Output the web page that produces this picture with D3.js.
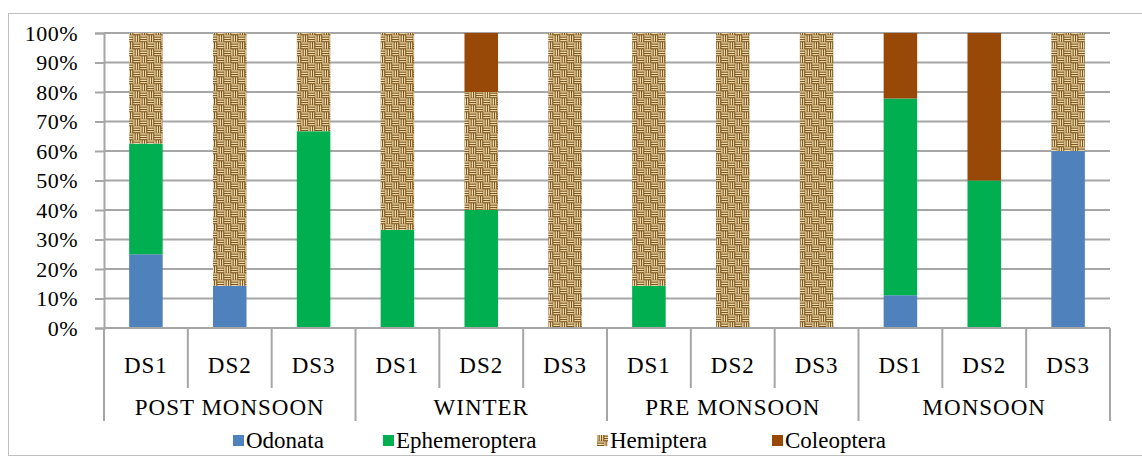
<!DOCTYPE html>
<html>
<head>
<meta charset="utf-8">
<script src="https://cdn.jsdelivr.net/npm/d3@7/dist/d3.min.js"></script>
<style>
  html, body { margin: 0; padding: 0; background: #ffffff; }
  svg { display: block; }
  svg text { font-family: "Liberation Serif", serif !important; }
</style>
</head>
<body>
<svg id="chart" width="1142" height="463" font-family="Liberation Serif, serif"></svg>
<script>
// Season groups and sampling sites (one bar per site within each season)
const seasons = ["POST MONSOON", "WINTER", "PRE MONSOON", "MONSOON"];
const sites = ["DS1", "DS2", "DS3"];

// Percentage composition of each order, in bar order (season x site)
const odonata       = [25,   14.3, 0,    0,    0,  0,   0,    0,   0,   11.1, 0,  60];
const ephemeroptera = [37.5, 0,    66.7, 33.3, 40, 0,   14.3, 0,   0,   66.7, 50, 0];
const hemiptera     = [37.5, 85.7, 33.3, 66.7, 40, 100, 85.7, 100, 100, 0,    0,  40];
const coleoptera    = [0,    0,    0,    0,    20, 0,   0,    0,   0,   22.2, 50, 0];

const seriesNames = ["Odonata", "Ephemeroptera", "Hemiptera", "Coleoptera"];
const yTicks = [0, 10, 20, 30, 40, 50, 60, 70, 80, 90, 100];

// Table built from the arrays above
const rows = [];
seasons.forEach((season, si) => {
  sites.forEach((site, di) => {
    const i = si * sites.length + di;
    rows.push({
      key: season + "|" + site, season, site,
      Odonata: odonata[i], Ephemeroptera: ephemeroptera[i],
      Hemiptera: hemiptera[i], Coleoptera: coleoptera[i]
    });
  });
});

const FONT = "Liberation Serif, serif";
const svg = d3.select("#chart");
const plotLeft = 104, plotRight = 1110, plotTop = 33, plotBottom = 328;
const gridColor = "#a6a6a6";

// Woven texture used for Hemiptera
const defs = svg.append("defs");
const pat = defs.append("pattern")
  .attr("id", "weave").attr("patternUnits", "userSpaceOnUse")
  .attr("width", 14).attr("height", 14);
pat.append("rect").attr("width", 14).attr("height", 14).attr("fill", "#b28f55");
function strands(g, x0, y0, vertical) {
  for (let k = 0; k < 3; k++) {
    const off = 0.5 + k * 2.3;
    if (vertical) {
      g.append("rect").attr("x", x0 + off).attr("y", y0 + 0.5).attr("width", 1.2).attr("height", 6).attr("fill", "#efdcaa");
      g.append("rect").attr("x", x0 + off + 1.2).attr("y", y0).attr("width", 1).attr("height", 7).attr("fill", "#7a5522");
    } else {
      g.append("rect").attr("x", x0 + 0.5).attr("y", y0 + off).attr("width", 6).attr("height", 1.2).attr("fill", "#efdcaa");
      g.append("rect").attr("x", x0).attr("y", y0 + off + 1.2).attr("width", 7).attr("height", 1).attr("fill", "#7a5522");
    }
  }
}
strands(pat, 0, 0, true);
strands(pat, 7, 0, false);
strands(pat, 0, 7, false);
strands(pat, 7, 7, true);

const colors = {
  Odonata: "#4f81bd",
  Ephemeroptera: "#00b050",
  Hemiptera: "url(#weave)",
  Coleoptera: "#984807"
};

// Outer chart frame
svg.append("rect")
  .attr("x", 8.5).attr("y", 13.5).attr("width", 1140).attr("height", 442)
  .attr("fill", "none").attr("stroke", "#bfbfbf").attr("stroke-width", 1);

const x = d3.scaleBand().domain(rows.map(d => d.key)).range([plotLeft, plotRight]).padding(0);
const y = d3.scaleLinear().domain([0, 100]).range([plotBottom, plotTop]);

// Horizontal gridlines
svg.append("g").selectAll("line").data(yTicks).join("line")
  .attr("x1", plotLeft).attr("x2", plotRight)
  .attr("y1", d => y(d)).attr("y2", d => y(d))
  .attr("stroke", gridColor).attr("stroke-width", 2);

// Y axis with outward ticks
const yAxis = d3.axisLeft(y).tickValues(yTicks).tickSize(9).tickPadding(17)
  .tickFormat(d => d + "%");
const yg = svg.append("g").attr("transform", `translate(${plotLeft},0)`).call(yAxis);
yg.attr("font-family", FONT).attr("font-size", 22);
yg.select(".domain").attr("stroke", gridColor).attr("stroke-width", 2);
yg.selectAll(".tick line").attr("stroke", gridColor).attr("stroke-width", 2);
yg.selectAll(".tick text")
  .attr("font-family", FONT).attr("font-size", 22)
  .attr("letter-spacing", 0.5).attr("fill", "#000");

// Stacked bars
const stack = d3.stack().keys(seriesNames);
const layers = stack(rows);
const barW = x.bandwidth() * 0.4;
svg.append("g").selectAll("g").data(layers).join("g")
  .attr("fill", d => colors[d.key])
  .selectAll("rect").data(d => d.filter(s => s[1] - s[0] > 0)).join("rect")
  .attr("x", d => x(d.data.key) + (x.bandwidth() - barW) / 2)
  .attr("width", barW)
  .attr("y", d => y(d[1]))
  .attr("height", d => y(d[0]) - y(d[1]));

// Multi-level category axis
const axisG = svg.append("g").attr("font-family", FONT).attr("font-size", 23);
axisG.append("line").attr("x1", plotLeft).attr("x2", plotRight).attr("y1", plotBottom).attr("y2", plotBottom)
  .attr("stroke", gridColor).attr("stroke-width", 2);
// Site separators
rows.forEach((r, i) => {
  if (i % 3 !== 0) {
    axisG.append("line")
      .attr("x1", x(r.key)).attr("x2", x(r.key))
      .attr("y1", plotBottom).attr("y2", 388)
      .attr("stroke", gridColor).attr("stroke-width", 2);
  }
});
// Season separators
const groupEdges = seasons.map((s, si) => x(rows[si * 3].key)).concat([plotRight]);
groupEdges.forEach(gx => {
  axisG.append("line").attr("x1", gx).attr("x2", gx)
    .attr("y1", plotBottom).attr("y2", 421)
    .attr("stroke", gridColor).attr("stroke-width", 2);
});
// Site labels
axisG.selectAll("text.site").data(rows).join("text")
  .attr("class", "site")
  .attr("x", d => x(d.key) + x.bandwidth() / 2)
  .attr("y", 373)
  .attr("text-anchor", "middle")
  .attr("font-family", FONT).attr("font-size", 23)
  .attr("letter-spacing", 1).attr("fill", "#000")
  .text(d => d.site);
// Season labels
axisG.selectAll("text.season").data(seasons).join("text")
  .attr("class", "season")
  .attr("x", (d, i) => (groupEdges[i] + groupEdges[i + 1]) / 2)
  .attr("y", 415)
  .attr("text-anchor", "middle")
  .attr("font-family", FONT).attr("font-size", 23)
  .attr("letter-spacing", 1).attr("fill", "#000")
  .text(d => d);

// Legend
const legendX = [233, 383, 597, 772];
const lg = svg.append("g").attr("font-family", FONT).attr("font-size", 23)
  .selectAll("g").data(seriesNames).join("g")
  .attr("transform", (d, i) => `translate(${legendX[i]},0)`);
lg.append("rect").attr("x", 0).attr("y", 435).attr("width", 11).attr("height", 11)
  .attr("fill", d => colors[d]);
lg.append("text").attr("x", 13).attr("y", 448)
  .attr("font-family", FONT).attr("font-size", 23).attr("fill", "#000")
  .text(d => d);
</script>
</body>
</html>
